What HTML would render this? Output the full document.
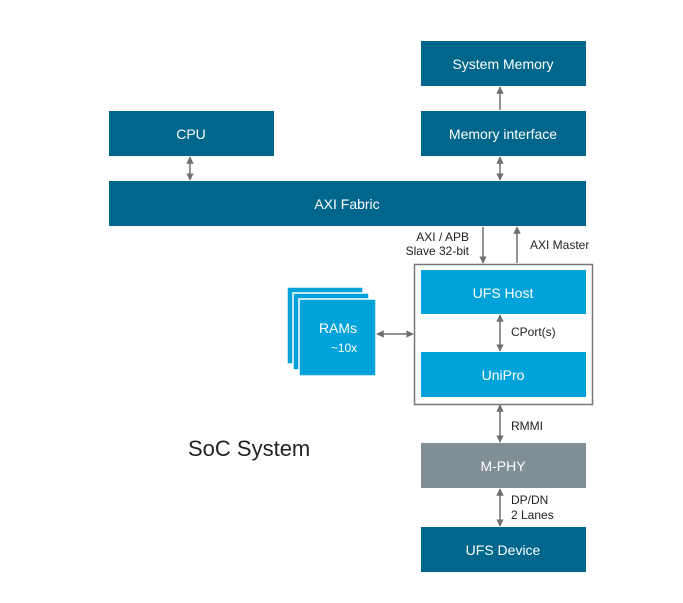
<!DOCTYPE html>
<html><head><style>html,body{margin:0;padding:0;background:#fff}</style></head><body>
<svg width="683" height="598" viewBox="0 0 683 598" xmlns="http://www.w3.org/2000/svg" font-family="Liberation Sans, sans-serif">
<defs>
<marker id="a" viewBox="0 0 10 10" refX="9" refY="5" markerWidth="5" markerHeight="5" orient="auto-start-reverse"><path d="M0,0L10,5L0,10z" fill="#6f6f6f"/></marker>
</defs>
<g fill="#00668c">
<rect x="421" y="41" width="165" height="45"/>
<rect x="421" y="111" width="165" height="45"/>
<rect x="109" y="111" width="165" height="45"/>
<rect x="109" y="181" width="477" height="45"/>
<rect x="421" y="527" width="165" height="45"/>
</g>
<rect x="421" y="443" width="165" height="45" fill="#808e96"/>
<rect x="414.5" y="264.5" width="178" height="140" fill="none" stroke="#777" stroke-width="1.5"/>
<rect x="421" y="270" width="165" height="44" fill="#00a3d9"/>
<rect x="421" y="352" width="165" height="45" fill="#00a3d9"/>
<g fill="#00a3d9" stroke="#fff" stroke-width="1.5">
<rect x="287" y="287" width="76" height="77"/>
<rect x="293" y="293" width="76" height="77"/>
<rect x="299" y="299" width="77" height="77"/>
</g>
<g stroke="#6f6f6f" stroke-width="1.5" fill="none">
<line x1="500" y1="110" x2="500" y2="87" marker-end="url(#a)"/>
<line x1="500" y1="157" x2="500" y2="180" marker-start="url(#a)" marker-end="url(#a)"/>
<line x1="190" y1="157" x2="190" y2="180" marker-start="url(#a)" marker-end="url(#a)"/>
<line x1="483" y1="227" x2="483" y2="263" marker-end="url(#a)"/>
<line x1="517" y1="263" x2="517" y2="227" marker-end="url(#a)"/>
<line x1="500" y1="315" x2="500" y2="351" marker-start="url(#a)" marker-end="url(#a)"/>
<line x1="377" y1="334" x2="413" y2="334" marker-start="url(#a)" marker-end="url(#a)"/>
<line x1="500" y1="405" x2="500" y2="442" marker-start="url(#a)" marker-end="url(#a)"/>
<line x1="500" y1="489" x2="500" y2="526" marker-start="url(#a)" marker-end="url(#a)"/>
</g>
<g fill="#fff" font-size="14" text-anchor="middle">
<text x="503" y="69">System Memory</text>
<text x="503" y="139">Memory interface</text>
<text x="191" y="139">CPU</text>
<text x="347" y="209">AXI Fabric</text>
<text x="503" y="298">UFS Host</text>
<text x="503" y="380">UniPro</text>
<text x="503" y="471">M-PHY</text>
<text x="503" y="555">UFS Device</text>
<text x="338" y="333">RAMs</text>
<text x="344" y="352" font-size="12">~10x</text>
</g>
<g fill="#222" font-size="12">
<text x="469" y="241" text-anchor="end">AXI / APB</text>
<text x="469" y="255" text-anchor="end">Slave 32-bit</text>
<text x="530" y="249">AXI Master</text>
<text x="511" y="336">CPort(s)</text>
<text x="511" y="430">RMMI</text>
<text x="511" y="504">DP/DN</text>
<text x="511" y="519">2 Lanes</text>
</g>
<text x="188" y="456" font-size="22" fill="#222">SoC System</text>
</svg>
</body></html>
